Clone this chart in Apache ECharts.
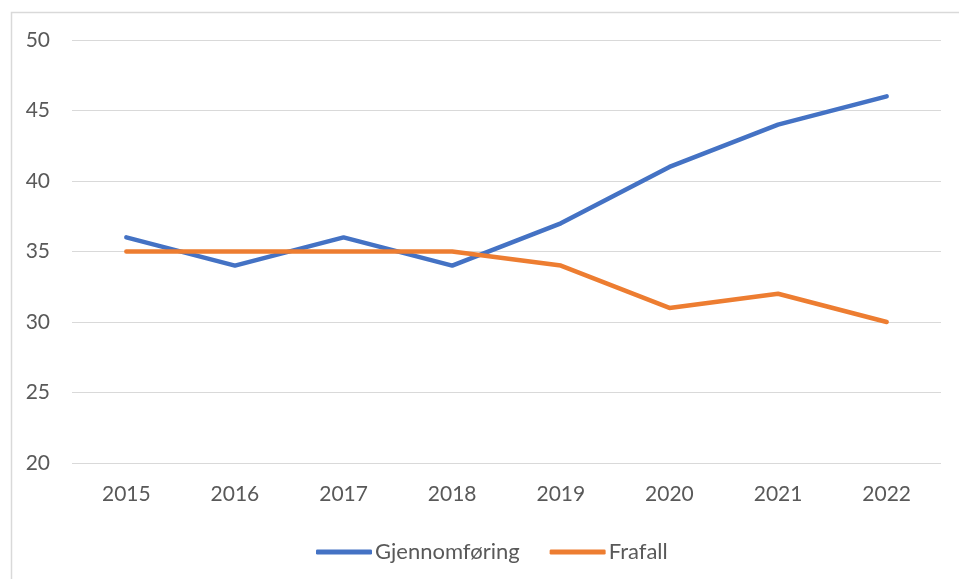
<!DOCTYPE html>
<html>
<head>
<meta charset="utf-8">
<script src="https://cdn.jsdelivr.net/npm/echarts@6/dist/echarts.min.js"></script>
<style>
  html, body { margin: 0; padding: 0; background: #fff; }
  #chart { width: 959px; height: 579px; }
</style>
</head>
<body>
<div id="chart"></div>
<script>
// chart data
const years = ['2015', '2016', '2017', '2018', '2019', '2020', '2021', '2022']
const gjennomforing = [36, 34, 36, 34, 37, 41, 44, 46]
const frafall = [35, 35, 35, 35, 34, 31, 32, 30]

const textColor = '#595959'
const font = 'Lato, "Open Sans", sans-serif'

const chart = echarts.init(document.getElementById('chart'))

chart.setOption({
  animation: false,
  textStyle: { fontFamily: font },
  graphic: [{
    type: 'rect',
    left: 9,
    top: 10,
    shape: { width: 980, height: 600 },
    style: { fill: 'none', stroke: '#d9d9d9', lineWidth: 1.5 },
    silent: true
  }],
  grid: {
    left: 72,
    right: 18,
    top: 40,
    bottom: 116
  },
  legend: {
    left: 311,
    top: 536,
    icon: 'roundRect',
    itemWidth: 56,
    itemHeight: 5,
    itemGap: 30,
    textStyle: { color: textColor, fontSize: 22, fontFamily: font, padding: [0, 0, 0, -2] },
    data: ['Gjennomføring', 'Frafall']
  },
  xAxis: {
    type: 'category',
    data: years,
    boundaryGap: true,
    axisLine: { show: false },
    axisTick: { show: false },
    axisLabel: { color: textColor, fontSize: 21, margin: 21 }
  },
  yAxis: {
    type: 'value',
    min: 20,
    max: 50,
    interval: 5,
    axisLine: { show: false },
    axisTick: { show: false },
    axisLabel: { color: textColor, fontSize: 21, margin: 22 },
    splitLine: { lineStyle: { color: '#d9d9d9', width: 1.2 } }
  },
  series: [
    {
      name: 'Gjennomføring',
      type: 'line',
      data: gjennomforing,
      showSymbol: false,
      color: '#4472C4',
      lineStyle: { width: 4.5, cap: 'round', join: 'round' }
    },
    {
      name: 'Frafall',
      type: 'line',
      data: frafall,
      showSymbol: false,
      color: '#ED7D31',
      lineStyle: { width: 4.5, cap: 'round', join: 'round' }
    }
  ]
})
</script>
</body>
</html>
